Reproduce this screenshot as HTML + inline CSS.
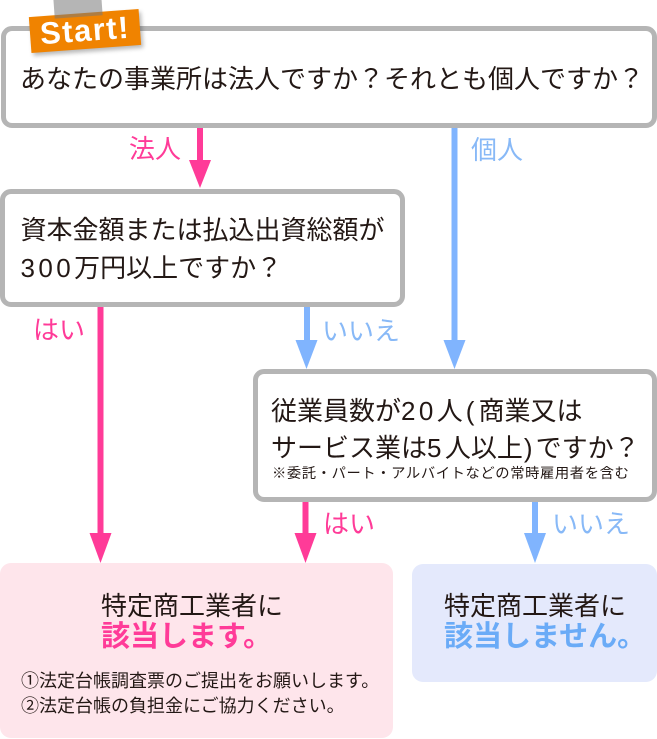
<!DOCTYPE html>
<html><head><meta charset="utf-8">
<style>
html,body{margin:0;padding:0;background:#fff;}
body{width:657px;height:739px;position:relative;overflow:hidden;font-family:"Liberation Sans","Noto Sans CJK JP",sans-serif;color:#231815;}
.box{position:absolute;box-sizing:border-box;border:5px solid #b5b5b5;border-radius:11px;background:#fff;}
.t{position:absolute;white-space:nowrap;}
.f26{font-size:26px;line-height:32px;}
.lbl{position:absolute;white-space:nowrap;font-size:26px;line-height:30px;}
.pk{color:#ff3b98;}
.bl{color:#88b9f7;}
.d{letter-spacing:3.4px;}
</style></head><body>

<svg width="657" height="739" style="position:absolute;left:0;top:0">
  <rect x="197" y="126" width="6" height="36" fill="#ff3b98"/>
  <polygon points="189,160 211,160 200,188" fill="#ff3b98"/>
  <rect x="451.5" y="126" width="6" height="216" fill="#80b4fe"/>
  <polygon points="443.5,340 465.5,340 454.5,369" fill="#80b4fe"/>
  <rect x="97.5" y="305" width="6" height="230" fill="#ff3b98"/>
  <polygon points="89.5,533 111.5,533 100.5,563" fill="#ff3b98"/>
  <rect x="304" y="305" width="6" height="37" fill="#80b4fe"/>
  <polygon points="295.5,340 317.5,340 306.5,369" fill="#80b4fe"/>
  <rect x="302.5" y="500" width="6" height="35" fill="#ff3b98"/>
  <polygon points="294.5,533 316.5,533 305.5,563" fill="#ff3b98"/>
  <rect x="532" y="500" width="6" height="35" fill="#80b4fe"/>
  <polygon points="524,533 546,533 535,563" fill="#80b4fe"/>
</svg>

<!-- Box 1 -->
<div class="box" style="left:1px;top:26px;width:656px;height:102px;"></div>
<div class="t f26" style="left:20px;top:63px;">あなたの事業所は法人ですか？それとも個人ですか？</div>

<!-- Start tag -->
<div style="position:absolute;left:30px;top:13px;width:110px;height:36px;background:#f08300;transform:rotate(-4.2deg);box-shadow:2px 3px 4px rgba(0,0,0,0.28);"></div>
<div class="t" style="left:30px;top:13px;width:110px;height:36px;line-height:36px;text-align:center;transform:rotate(-4.2deg);color:#fff;font-weight:bold;font-size:31px;letter-spacing:1.5px;font-family:'Liberation Sans',sans-serif;">Start!</div>
<div style="position:absolute;left:54px;top:-3px;width:48px;height:20px;background:rgba(120,120,120,0.55);transform:rotate(-4deg);"></div>

<!-- Labels -->
<div class="lbl pk" style="left:129px;top:134px;">法人</div>
<div class="lbl bl" style="left:471px;top:135px;">個人</div>

<!-- Box 2 -->
<div class="box" style="left:0px;top:189px;width:405px;height:118px;"></div>
<div class="t f26" style="left:20.5px;top:214px;">資本金額または払込出資総額が</div>
<div class="t f26" style="left:20.5px;top:252px;"><span class="d">300</span>万円以上ですか？</div>

<div class="lbl pk" style="left:33px;top:315px;">はい</div>
<div class="lbl bl" style="left:322px;top:316px;">いいえ</div>

<!-- Box 3 -->
<div class="box" style="left:253px;top:369px;width:404px;height:133px;"></div>
<div class="t f26" style="left:271px;top:395px;">従業員数が<span class="d">20</span>人<span style="margin:0 4px 0 3px;">(</span>商業又は</div>
<div class="t f26" style="left:271px;top:432px;">サービス業は<span class="d">5</span>人以上<span style="margin:0 3px 0 1px;">)</span>ですか？</div>
<div class="t" style="left:272px;top:465px;font-size:14.3px;line-height:18px;letter-spacing:0.6px;">※委託・パート・アルバイトなどの常時雇用者を含む</div>

<div class="lbl pk" style="left:323px;top:509px;">はい</div>
<div class="lbl bl" style="left:552px;top:509px;">いいえ</div>

<!-- Result boxes -->
<div style="position:absolute;left:0;top:563px;width:393px;height:175px;background:#fee5eb;border-radius:11px;"></div>
<div class="t f26" style="left:101px;top:590px;">特定商工業者に</div>
<div class="t" style="left:101px;top:620px;font-size:29px;line-height:34px;font-weight:bold;color:#ff3b98;">該当します。</div>
<div class="t" style="left:21px;top:670px;font-size:18px;line-height:22px;">①法定台帳調査票のご提出をお願いします。</div>
<div class="t" style="left:21px;top:695px;font-size:18px;line-height:22px;">②法定台帳の負担金にご協力ください。</div>

<div style="position:absolute;left:412px;top:564px;width:245px;height:118px;background:#e4e9fc;border-radius:11px;"></div>
<div class="t f26" style="left:444px;top:590px;">特定商工業者に</div>
<div class="t" style="left:444px;top:620px;font-size:29px;line-height:34px;font-weight:bold;color:#6aabf7;">該当しません。</div>

</body></html>
